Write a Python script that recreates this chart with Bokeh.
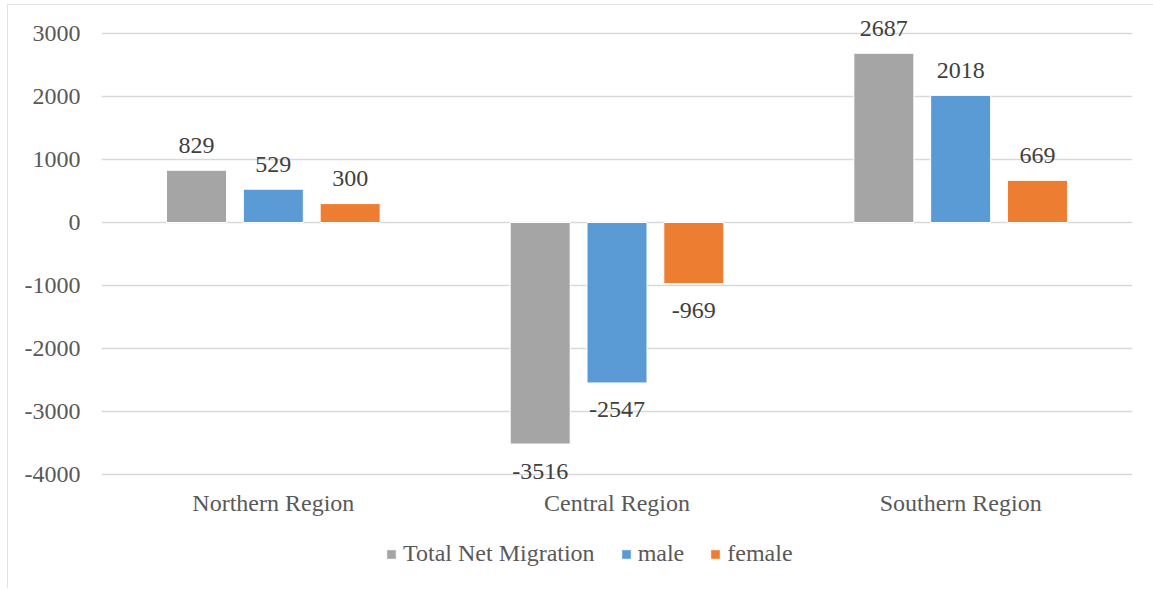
from bokeh.plotting import figure
from bokeh.models import (ColumnDataSource, FactorRange, Legend, LegendItem, FixedTicker,
                          Range1d, LabelSet, PrintfTickFormatter)
from bokeh.transform import dodge
from bokeh.embed import file_html
from bokeh.resources import INLINE

regions = ["Northern Region", "Central Region", "Southern Region"]
series_names = ["Total Net Migration", "male", "female"]
total = [829, -3516, 2687]
male = [529, -2547, 2018]
female = [300, -969, 669]
y_ticks = [-4000, -3000, -2000, -1000, 0, 1000, 2000, 3000]

colors = ["#a5a5a5", "#5b9bd5", "#ed7d31"]
offsets = [-0.2235, 0.0, 0.2235]
FONT = "Liberation Serif"
FS = "24px"

# frame spans the whole figure height so that labels and legend are not clipped;
# gridlines/ticks are only drawn at -4000..3000
p = figure(x_range=FactorRange(*regions), y_range=Range1d(-5730, 3381),
           width=1147, height=584, output_backend="svg", toolbar_location=None,
           x_axis_location=None,
           min_border_left=94, min_border_right=22, min_border_top=5, min_border_bottom=5)
p.styles = {"margin-left": "7px", "margin-top": "4px",
            "outline": "1px solid #d9d9d9", "outline-offset": "-1px"}
p.outline_line_color = None
p.background_fill_color = "white"
p.border_fill_color = "white"

items = []
for name, vals, col, off in zip(series_names, [total, male, female], colors, offsets):
    src = ColumnDataSource(dict(
        region=regions, val=vals,
        lab=[str(v) for v in vals],
        yoff=[25 if v >= 0 else -27 for v in vals],
    ))
    r = p.vbar(x=dodge("region", off, range=p.x_range), top="val", bottom=0, width=0.1746,
               source=src, fill_color=col, line_color="white", line_width=1)
    labels = LabelSet(x=dodge("region", off, range=p.x_range), y="val", text="lab", source=src,
                      y_offset="yoff", text_align="center", text_baseline="middle",
                      text_font=FONT, text_font_size=FS, text_color="#404040")
    p.add_layout(labels)
    items.append(LegendItem(label=name, renderers=[r]))

# category labels under the -4000 line
cat_src = ColumnDataSource(dict(region=regions, base=[y_ticks[0]] * len(regions)))
p.add_layout(LabelSet(x="region", y="base", text="region", source=cat_src, y_offset=-28,
                      text_align="center", text_baseline="middle",
                      text_font=FONT, text_font_size=FS, text_color="#595959"))

p.yaxis.ticker = FixedTicker(ticks=y_ticks)
p.yaxis.formatter = PrintfTickFormatter(format="%d")
p.yaxis.axis_line_color = None
p.yaxis.major_tick_line_color = None
p.yaxis.minor_tick_line_color = None
p.yaxis.major_tick_out = 0
p.yaxis.major_tick_in = 0
p.yaxis.minor_tick_out = 0
p.yaxis.major_label_standoff = 21
p.yaxis.major_label_text_font = FONT
p.yaxis.major_label_text_font_size = FS
p.yaxis.major_label_text_color = "#595959"

p.xgrid.grid_line_color = None
p.ygrid.grid_line_color = "#d9d9d9"
p.ygrid.grid_line_width = 1.5
p.ygrid.ticker = FixedTicker(ticks=y_ticks)

legend = Legend(items=items, orientation="horizontal", location=(284, 16))
legend.label_text_font = FONT
legend.label_text_font_size = FS
legend.label_text_color = "#595959"
legend.glyph_width = 12
legend.glyph_height = 12
legend.label_standoff = 6
legend.spacing = 25
legend.padding = 0
legend.margin = 0
legend.border_line_color = None
legend.background_fill_alpha = 0
p.add_layout(legend)

open("out.html", "w").write(file_html(p, INLINE))
